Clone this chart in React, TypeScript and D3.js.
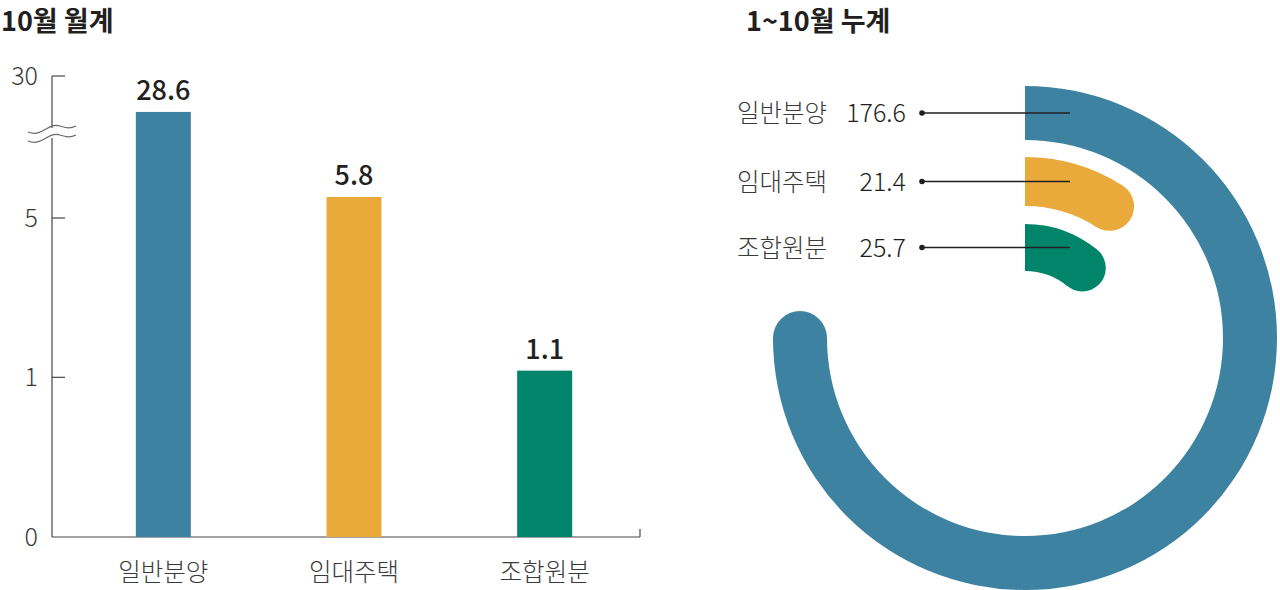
import * as d3 from "d3";

// 10월 월계 (bar chart, broken axis)
const monthCats = ["일반분양", "임대주택", "조합원분"];
const monthValues = [28.6, 5.8, 1.1];
const monthLabels = ["28.6", "5.8", "1.1"];
const lowTicks = [0, 1, 5];
const highTicks = [30];

// 1~10월 누계 (radial bars)
const ytdCats = ["일반분양", "임대주택", "조합원분"];
const ytdValues = [176.6, 21.4, 25.7];
const ytdLabels = ["176.6", "21.4", "25.7"];

const COLORS = ["#3d83a1", "#e9aa3b", "#00846a"];
const FONT = "'Noto Sans CJK KR', 'Noto Sans', sans-serif";
const INK = "#231f20";
const GRAY = "#3a3a3a";

const axisX = 52;
const baseY = 537;

// lower part is compressed (power scale), upper part sits above the break
const yLow = d3.scalePow().exponent(0.43).domain([0, 5]).range([baseY, 218]);
const yHigh = d3.scaleLinear().domain([27, 30]).range([153, 76]);
const y = (v: number) => (v > 10 ? yHigh(v) : yLow(v));

const x = d3.scalePoint<string>().domain(monthCats).range([68, 640]).padding(0.5);
const barW = 55;

// radial
const cx = 1025;
const cy = 338;
const rings = [
  { inner: 198, outer: 252 },
  { inner: 132, outer: 181 },
  { inner: 67, outer: 114 },
];
const angle = d3.scaleLinear().domain([0, 176.6]).range([0, Math.PI * 1.5]);
const arc = d3.arc<any>();

function breakPath(yy: number) {
  const p = d3.path();
  p.moveTo(28, yy + 4);
  p.bezierCurveTo(42, yy + 10, 48, yy - 6, 60, yy - 2);
  p.bezierCurveTo(66, yy, 70, yy + 1, 76, yy - 2);
  return p.toString();
}

export default function App() {
  return (
    <svg width={1280} height={590} style={{ position: "absolute", left: 0, top: 0, background: "#fff" }}>
      {/* titles */}
      <text x={1} y={31} fontFamily={FONT} fontWeight={700} fontSize={27} fill={INK}>
        10월 월계
      </text>
      <text x={746} y={31} fontFamily={FONT} fontWeight={700} fontSize={27} fill={INK}>
        1~10월 누계
      </text>

      {/* axis */}
      <g stroke="#4a4546" strokeWidth={1.2} fill="none">
        <line x1={axisX} x2={axisX} y1={yHigh(30)} y2={baseY} />
        <line x1={axisX} x2={640} y1={baseY} y2={baseY} />
        <line x1={640} x2={640} y1={baseY} y2={baseY - 8} />
        {highTicks.concat(lowTicks.filter((t) => t > 0)).map((t) => (
          <line key={t} x1={axisX} x2={axisX + 13} y1={y(t)} y2={y(t)} />
        ))}
      </g>
      {/* break */}
      <rect x={axisX - 2} y={128} width={4} height={10} fill="#fff" />
      <path d={breakPath(128)} fill="none" stroke="#6d6869" strokeWidth={1.2} />
      <path d={breakPath(137)} fill="none" stroke="#6d6869" strokeWidth={1.2} />

      {highTicks.concat(lowTicks).map((t) => (
        <text
          key={"t" + t}
          x={38}
          y={y(t) + 9}
          textAnchor="end"
          fontFamily={FONT}
          fontWeight={300}
          fontSize={25}
          fill={GRAY}
        >
          {t}
        </text>
      ))}

      {/* bars */}
      {monthCats.map((c, i) => (
        <g key={c}>
          <rect
            x={(x(c) as number) - barW / 2}
            y={y(monthValues[i])}
            width={barW}
            height={baseY - y(monthValues[i])}
            fill={COLORS[i]}
          />
          <text
            x={x(c) as number}
            y={y(monthValues[i]) - 12}
            textAnchor="middle"
            fontFamily={FONT}
            fontWeight={500}
            fontSize={27}
            fill={INK}
          >
            {monthLabels[i]}
          </text>
          <text
            x={x(c) as number}
            y={581}
            textAnchor="middle"
            fontFamily={FONT}
            fontWeight={300}
            fontSize={24.5}
            fill={GRAY}
          >
            {c}
          </text>
        </g>
      ))}

      {/* radial bars */}
      <g transform={`translate(${cx},${cy})`}>
        {ytdValues.map((v, i) => {
          const r = rings[i];
          const a = angle(v);
          const mid = (r.inner + r.outer) / 2;
          return (
            <g key={i}>
              <path
                d={arc({ innerRadius: r.inner, outerRadius: r.outer, startAngle: 0, endAngle: a }) as string}
                fill={COLORS[i]}
              />
              <circle
                cx={mid * Math.sin(a)}
                cy={-mid * Math.cos(a)}
                r={(r.outer - r.inner) / 2}
                fill={COLORS[i]}
              />
            </g>
          );
        })}
      </g>

      {/* radial labels */}
      {ytdCats.map((c, i) => {
        const r = rings[i];
        const ly = cy - (r.inner + r.outer) / 2;
        return (
          <g key={"l" + c}>
            <line x1={922} x2={1070} y1={ly} y2={ly} stroke={INK} strokeWidth={1.3} />
            <circle cx={922} cy={ly} r={2.8} fill={INK} />
            <text x={737} y={ly + 9} fontFamily={FONT} fontWeight={300} fontSize={24.5} fill={GRAY}>
              {c}
            </text>
            <text x={906} y={ly + 9} textAnchor="end" fontFamily={FONT} fontWeight={300} fontSize={25} fill={INK}>
              {ytdLabels[i]}
            </text>
          </g>
        );
      })}
    </svg>
  );
}
